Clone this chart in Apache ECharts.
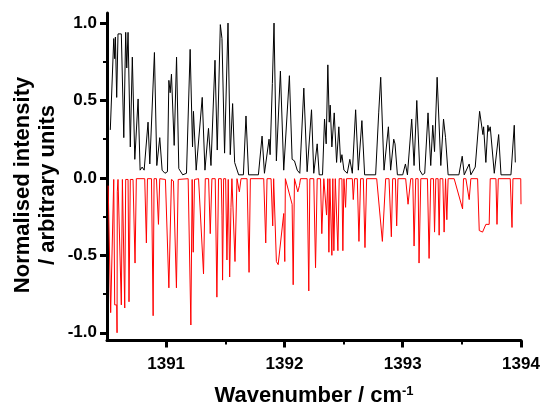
<!DOCTYPE html>
<html>
<head>
<meta charset="utf-8">
<script src="https://cdn.jsdelivr.net/npm/echarts@6/dist/echarts.min.js"></script>
<style>
html,body{margin:0;padding:0;background:#fff;}
#chart{width:543px;height:412px;}
</style>
</head>
<body>
<div id="chart"></div>
<script>
// Tick labels
var xTickValues = [1391, 1392, 1393, 1394];
var xMinorValues = [1391.5, 1392.5, 1393.5];
var yTickValues = [-1.0, -0.5, 0.0, 0.5, 1.0];
var yMinorValues = [-0.75, -0.25, 0.25, 0.75];

// Measured spectrum (black), [wavenumber, intensity]
var measured = [
[1390.528,0.31],[1390.557,0.90],[1390.565,0.77],[1390.571,0.91],[1390.582,0.52],
[1390.593,0.93],[1390.621,0.93],[1390.642,0.26],[1390.658,0.94],[1390.667,0.71],
[1390.678,0.94],[1390.697,0.20],[1390.714,0.78],[1390.735,0.12],[1390.763,0.51],
[1390.780,0.05],[1390.797,0.07],[1390.814,0.05],[1390.847,0.36],[1390.862,0.09],
[1390.901,0.81],[1390.921,0.08],[1390.946,0.26],[1390.966,0.05],[1390.990,0.03],
[1391.011,0.04],[1391.023,0.63],[1391.034,0.55],[1391.045,0.67],[1391.068,0.21],
[1391.088,0.78],[1391.107,0.06],[1391.140,0.02],[1391.172,0.03],[1391.203,0.83],
[1391.223,0.20],[1391.231,0.43],[1391.254,0.05],[1391.305,0.52],[1391.328,0.05],
[1391.358,0.32],[1391.379,0.08],[1391.413,0.76],[1391.432,0.18],[1391.458,0.99],
[1391.472,0.90],[1391.494,0.16],[1391.523,1.00],[1391.542,0.15],[1391.562,0.48],
[1391.579,0.10],[1391.593,0.09],[1391.613,0.02],[1391.653,0.02],[1391.675,0.40],
[1391.697,0.02],[1391.780,0.02],[1391.811,0.27],[1391.831,0.03],[1391.870,0.25],
[1391.879,0.15],[1391.898,0.61],[1391.912,1.00],[1391.932,0.11],[1391.966,0.69],
[1391.994,0.05],[1392.042,0.66],[1392.065,0.12],[1392.085,0.11],[1392.108,0.05],
[1392.130,0.03],[1392.164,0.58],[1392.192,0.04],[1392.229,0.44],[1392.248,0.03],
[1392.277,0.22],[1392.294,0.02],[1392.322,0.02],[1392.339,0.38],[1392.353,0.22],
[1392.367,0.73],[1392.379,0.36],[1392.387,0.47],[1392.401,0.20],[1392.421,0.42],
[1392.441,0.10],[1392.460,0.33],[1392.475,0.10],[1392.486,0.15],[1392.503,0.05],
[1392.531,0.03],[1392.553,0.12],[1392.574,0.03],[1392.602,0.44],[1392.625,0.05],
[1392.655,0.37],[1392.678,0.02],[1392.771,0.02],[1392.797,0.42],[1392.814,0.65],
[1392.842,0.05],[1392.879,0.33],[1392.898,0.05],[1392.924,0.25],[1392.935,0.22],
[1392.955,0.02],[1393.000,0.02],[1393.023,0.09],[1393.040,0.02],[1393.076,0.38],
[1393.096,0.08],[1393.119,0.50],[1393.144,0.05],[1393.167,0.02],[1393.186,0.03],
[1393.214,0.42],[1393.237,0.08],[1393.254,0.34],[1393.269,0.17],[1393.291,0.65],
[1393.322,0.08],[1393.345,0.38],[1393.362,0.26],[1393.384,0.02],[1393.475,0.02],
[1393.503,0.14],[1393.520,0.02],[1393.562,0.09],[1393.576,0.02],[1393.613,0.07],
[1393.627,0.06],[1393.650,0.43],[1393.664,0.42],[1393.678,0.28],[1393.684,0.33],
[1393.703,0.10],[1393.720,0.34],[1393.728,0.30],[1393.740,0.33],[1393.774,0.03],
[1393.811,0.28],[1393.831,0.02],[1393.915,0.02],[1393.943,0.34],[1393.952,0.10]
];

// Simulated spectrum (red, inverted), [wavenumber, intensity]
var simulated = [
[1390.510,-0.05],[1390.531,-0.87],[1390.557,-0.01],[1390.565,-0.82],[1390.582,-0.82],
[1390.585,-1.00],[1390.587,-0.09],[1390.593,-0.01],[1390.621,-0.82],[1390.630,-0.01],
[1390.650,-0.84],[1390.658,-0.01],[1390.678,-0.01],[1390.686,-0.80],[1390.697,-0.01],
[1390.720,-0.01],[1390.737,-0.55],[1390.748,-0.005],[1390.819,-0.005],[1390.833,-0.42],
[1390.842,-0.005],[1390.876,-0.005],[1390.890,-0.89],[1390.898,-0.005],[1390.918,-0.005],
[1390.935,-0.30],[1390.946,-0.005],[1390.994,-0.01],[1391.003,-0.02],[1391.023,-0.71],
[1391.037,-0.72],[1391.045,-0.01],[1391.062,-0.02],[1391.087,-0.71],[1391.102,-0.01],
[1391.186,-0.005],[1391.209,-0.95],[1391.220,-0.01],[1391.229,-0.48],[1391.240,-0.01],
[1391.274,-0.005],[1391.316,-0.62],[1391.331,-0.005],[1391.359,-0.005],[1391.373,-0.36],
[1391.387,-0.005],[1391.415,-0.005],[1391.429,-0.77],[1391.443,-0.005],[1391.466,-0.005],
[1391.472,-0.24],[1391.477,-0.66],[1391.486,-0.005],[1391.503,-0.005],[1391.514,-0.53],
[1391.525,-0.01],[1391.537,-0.64],[1391.548,-0.19],[1391.556,-0.005],[1391.582,-0.54],
[1391.599,-0.005],[1391.619,-0.09],[1391.633,-0.005],[1391.684,-0.005],[1391.701,-0.61],
[1391.712,-0.005],[1391.825,-0.005],[1391.842,-0.42],[1391.853,-0.005],[1391.887,-0.005],
[1391.901,-0.31],[1391.909,-0.005],[1391.932,-0.54],[1391.947,-0.56],[1391.994,-0.23],
[1392.003,-0.54],[1392.008,-0.005],[1392.051,-0.13],[1392.065,-0.17],[1392.074,-0.69],
[1392.085,-0.005],[1392.113,-0.09],[1392.127,-0.05],[1392.136,-0.005],[1392.192,-0.005],
[1392.206,-0.73],[1392.215,-0.005],[1392.248,-0.005],[1392.263,-0.58],[1392.277,-0.005],
[1392.305,-0.005],[1392.316,-0.36],[1392.333,-0.005],[1392.356,-0.24],[1392.367,-0.005],
[1392.376,-0.48],[1392.384,-0.005],[1392.401,-0.50],[1392.409,-0.005],[1392.418,-0.47],
[1392.430,-0.005],[1392.452,-0.47],[1392.463,-0.005],[1392.486,-0.005],[1392.494,-0.47],
[1392.503,-0.005],[1392.517,-0.19],[1392.525,-0.005],[1392.574,-0.005],[1392.582,-0.14],
[1392.593,-0.005],[1392.616,-0.005],[1392.630,-0.41],[1392.644,-0.005],[1392.667,-0.005],
[1392.681,-0.45],[1392.695,-0.005],[1392.780,-0.005],[1392.828,-0.41],[1392.842,-0.42],
[1392.856,-0.005],[1392.884,-0.005],[1392.904,-0.38],[1392.915,-0.005],[1392.938,-0.005],
[1392.949,-0.31],[1392.960,-0.005],[1393.025,-0.005],[1393.045,-0.17],[1393.068,-0.005],
[1393.085,-0.005],[1393.096,-0.44],[1393.110,-0.005],[1393.130,-0.005],[1393.138,-0.55],
[1393.153,-0.005],[1393.209,-0.005],[1393.223,-0.52],[1393.237,-0.005],[1393.260,-0.005],
[1393.269,-0.35],[1393.280,-0.005],[1393.299,-0.005],[1393.308,-0.37],[1393.316,-0.005],
[1393.339,-0.005],[1393.350,-0.35],[1393.362,-0.005],[1393.373,-0.27],[1393.384,-0.005],
[1393.435,-0.005],[1393.506,-0.20],[1393.514,-0.005],[1393.534,-0.005],[1393.562,-0.14],
[1393.576,-0.005],[1393.633,-0.005],[1393.647,-0.34],[1393.675,-0.35],[1393.703,-0.30],
[1393.731,-0.30],[1393.740,-0.005],[1393.788,-0.005],[1393.797,-0.30],[1393.808,-0.005],
[1393.909,-0.005],[1393.924,-0.32],[1393.932,-0.005],[1393.998,-0.005],[1394.000,-0.17]
];

var FONT = '"Liberation Sans", Arial, sans-serif';
var chart = echarts.init(document.getElementById('chart'), null, {renderer: 'canvas'});
var option = {
  animation: false,
  backgroundColor: '#ffffff',
  grid: {left: 107, right: 22, top: 13, bottom: 65, containLabel: false},
  xAxis: [{
    type: 'value', min: 1390.5, max: 1394,
    axisLine: {show: true, onZero: false, lineStyle: {color: '#000', width: 3}},
    axisTick: {show: true, customValues: xTickValues, length: 7, lineStyle: {color: '#000', width: 3}},
    axisLabel: {show: true, customValues: xTickValues, margin: 15, color: '#000', fontFamily: FONT, fontWeight: 'bold', fontSize: 17,
      formatter: function (v) { return String(Math.round(v)); }},
    splitLine: {show: false},
    name: 'Wavenumber / cm{sup|-1}',
    nameLocation: 'middle', nameGap: 44,
    nameTextStyle: {color: '#000', fontFamily: FONT, fontWeight: 'bold', fontSize: 22,
      rich: {sup: {fontFamily: FONT, fontWeight: 'bold', fontSize: 13, verticalAlign: 'top', padding: [0,0,10,0], color: '#000'}}}
  }, {
    type: 'value', min: 1390.5, max: 1394, position: 'bottom',
    axisLine: {show: false, onZero: false},
    axisTick: {show: true, customValues: xMinorValues, length: 4, lineStyle: {color: '#000', width: 2}},
    axisLabel: {show: false}, splitLine: {show: false}
  }],
  yAxis: [{
    type: 'value', min: -1.05, max: 1.065,
    axisLine: {show: true, onZero: false, lineStyle: {color: '#000', width: 3}},
    axisTick: {show: true, customValues: yTickValues, length: 7, lineStyle: {color: '#000', width: 3}},
    axisLabel: {show: true, customValues: yTickValues, margin: 10, color: '#000', fontFamily: FONT, fontWeight: 'bold', fontSize: 17,
      formatter: function (v) { return v.toFixed(1); }},
    splitLine: {show: false}
  }, {
    type: 'value', min: -1.05, max: 1.065, position: 'left',
    axisLine: {show: false, onZero: false},
    axisTick: {show: true, customValues: yMinorValues, length: 4, lineStyle: {color: '#000', width: 2}},
    axisLabel: {show: false}, splitLine: {show: false}
  }],
  graphic: [{
    type: 'text', x: 35, y: 185, rotation: Math.PI / 2,
    style: {text: 'Normalised intensity\n/ arbitrary units', fill: '#000', font: 'bold 22px ' + FONT,
      textAlign: 'center', textVerticalAlign: 'middle', lineHeight: 25}
  }],
  series: [{
    name: 'simulated', type: 'line', data: simulated, showSymbol: false, symbol: 'none',
    lineStyle: {color: '#ff0000', width: 1}, xAxisIndex: 0, yAxisIndex: 0, z: 2
  }, {
    name: 'measured', type: 'line', data: measured, showSymbol: false, symbol: 'none',
    lineStyle: {color: '#000000', width: 1}, xAxisIndex: 0, yAxisIndex: 0, z: 3
  }]
};
chart.setOption(option);
</script>
</body>
</html>
